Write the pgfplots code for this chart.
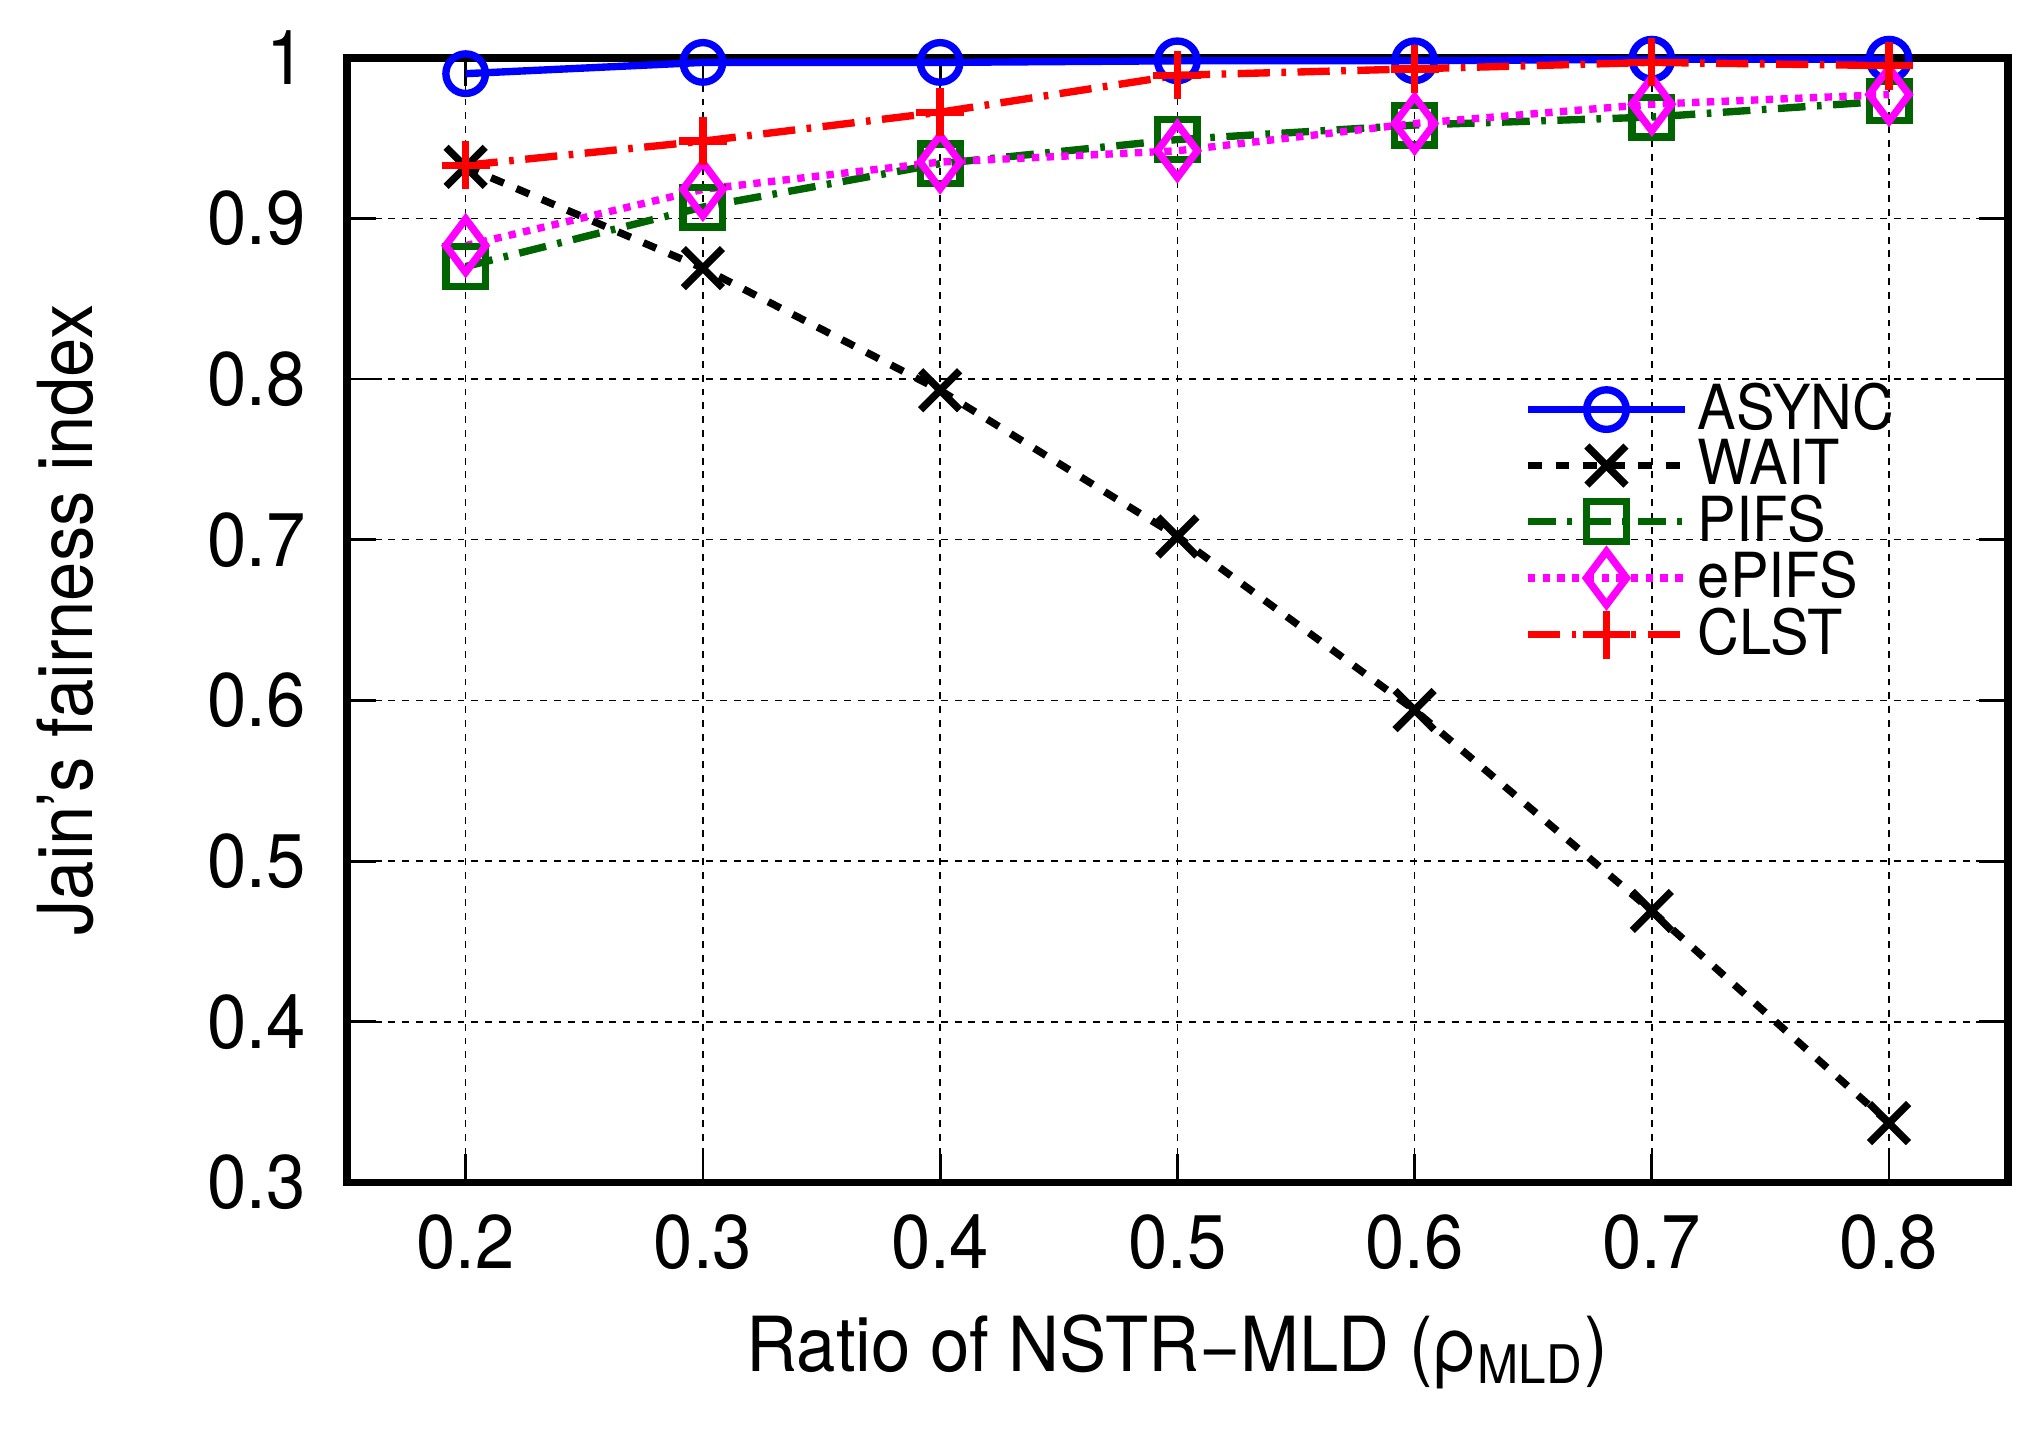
\documentclass[border=0pt]{standalone}
\usepackage{pgfplots}
\pgfplotsset{compat=1.18}
\usepackage{fontspec}
\setmainfont[FakeStretch=0.93]{TeX Gyre Heros}
\definecolor{pifsgreen}{RGB}{0,100,0}
\definecolor{epifsmag}{RGB}{255,0,255}
\definecolor{clstred}{RGB}{255,0,0}
\definecolor{asyncblue}{RGB}{0,0,255}

\begin{document}
\begin{tikzpicture}
\begin{axis}[
    name=ax,
    scale only axis,
    width=12.68cm, height=8.59cm,
    xmin=0.15, xmax=0.85,
    ymin=0.3, ymax=1,
    xtick={0.2,0.3,0.4,0.5,0.6,0.7,0.8},
    ytick={0.3,0.4,0.5,0.6,0.7,0.8,0.9,1},
    /pgf/number format/assume math mode=true,
    /pgf/number format/fixed,
    /pgf/number format/precision=1,
    tick align=inside,
    tick pos=both,
    major tick length=0.22cm,
    tick style={black, line width=0.6pt},
    axis line style={line width=1.7pt},
    font=\fontsize{16.5}{19}\selectfont,
    xlabel={Ratio of NSTR−MLD (ρ\textsubscript{MLD})},
    ylabel={Jain’s fairness index},
    xlabel style={at={(axis description cs:0.5,-0.1676)}, anchor=base},
    ylabel style={at={(axis description cs:-0.1696,0.5)}, anchor=center},
    xticklabel style={yshift=-0.12cm},
    yticklabel style={xshift=-0.19cm},
    grid=major,
    grid style={black, line width=0.3pt, dash pattern=on 1.5pt off 1.5pt},
    clip=false,
    legend style={draw=none, fill=none, at={(0.70,0.728)}, anchor=north west,
        font=\fontsize{13.5}{15}\selectfont, row sep=-3.3pt,
        legend cell align=left,
        every odd column/.append style={column sep=0.12cm}},
    legend image code/.code={
        \draw[mark repeat=2,mark phase=2] plot coordinates {(0cm,0cm) (0.6cm,0cm) (1.2cm,0cm)};
    },
]

\addplot[color=asyncblue, line width=1.6pt, mark=o, mark size=4.3pt, mark options={solid}]
    coordinates {(0.2,0.990)(0.3,0.997)(0.4,0.997)(0.5,0.998)(0.6,0.998)(0.7,0.999)(0.8,0.999)};
\addlegendentry{ASYNC}

\addplot[color=black, line width=1.6pt, dash pattern=on 3pt off 3pt, mark=x, mark size=6pt, mark options={solid}]
    coordinates {(0.2,0.932)(0.3,0.869)(0.4,0.793)(0.5,0.702)(0.6,0.594)(0.7,0.469)(0.8,0.337)};
\addlegendentry{WAIT}

\addplot[color=pifsgreen, line width=1.6pt, dash pattern=on 6pt off 2.5pt on 1pt off 2.5pt, mark=square, mark size=4.3pt, mark options={solid}]
    coordinates {(0.2,0.870)(0.3,0.907)(0.4,0.934)(0.5,0.949)(0.6,0.958)(0.7,0.963)(0.8,0.973)};
\addlegendentry{PIFS}

\addplot[color=epifsmag, line width=1.6pt, dash pattern=on 1.6pt off 1.6pt, mark=diamond, mark size=5.8pt, mark options={solid}]
    coordinates {(0.2,0.883)(0.3,0.918)(0.4,0.935)(0.5,0.942)(0.6,0.959)(0.7,0.971)(0.8,0.977)};
\addlegendentry{ePIFS}

\addplot[color=clstred, line width=1.6pt, dash pattern=on 7pt off 2.5pt on 1pt off 2.5pt, mark=+, mark size=5.2pt, mark options={solid}]
    coordinates {(0.2,0.933)(0.3,0.948)(0.4,0.966)(0.5,0.989)(0.6,0.993)(0.7,0.997)(0.8,0.995)};
\addlegendentry{CLST}

\end{axis}
\path ([xshift=-2.65cm,yshift=-1.9cm]ax.south west) rectangle ([xshift=0.27cm,yshift=0.44cm]ax.north east);
\end{tikzpicture}
\end{document}
